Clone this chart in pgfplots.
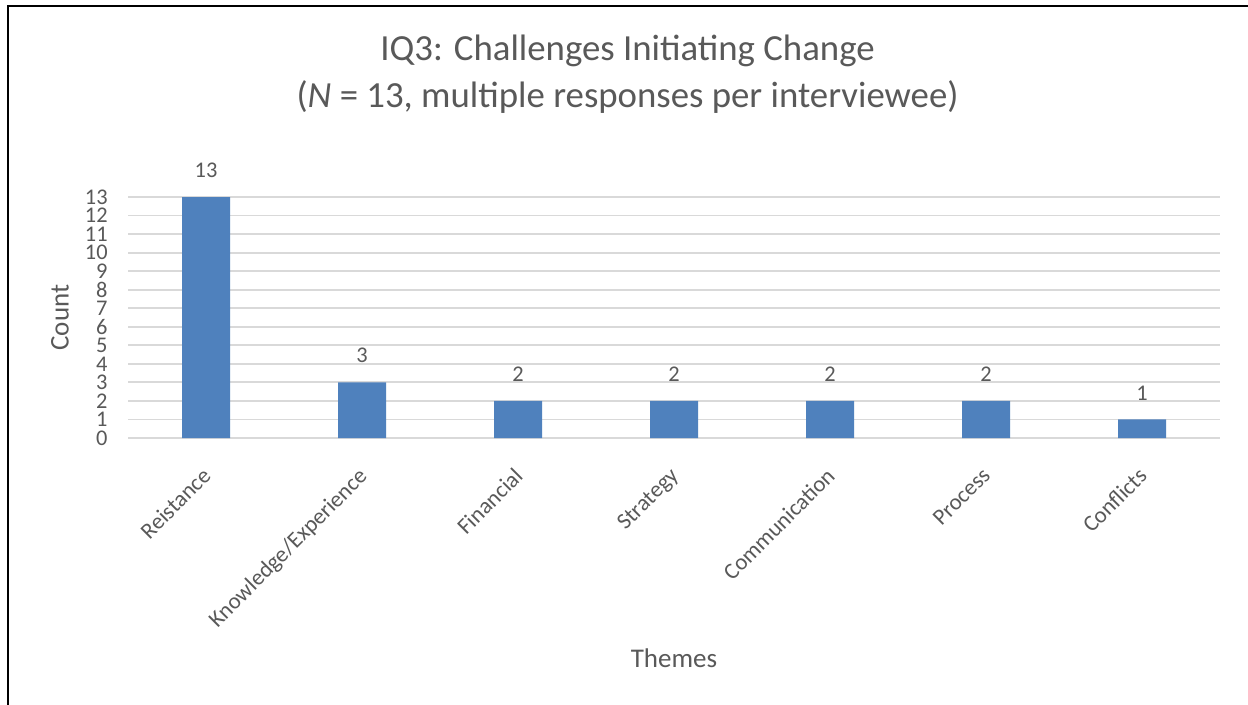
\documentclass[border=0pt]{standalone}
\usepackage{pgfplots}
\pgfplotsset{compat=1.18}
\usepackage{fontspec}
\setmainfont{Carlito}
\definecolor{barblue}{HTML}{4F81BD}
\definecolor{txtgray}{HTML}{595959}
\definecolor{gridgray}{HTML}{D9D9D9}

\begin{document}
\begin{tikzpicture}
% page area: 1 px = 0.5 pt, origin at the top-left corner
\useasboundingbox (0pt,0pt) rectangle (624pt,-352.5pt);
\fill[white] (0pt,0pt) rectangle (624pt,-352.5pt);
% outer frame (left and top edges)
\draw[black, line width=1.3pt] (4pt,-352.5pt) -- (4pt,-3pt) -- (624pt,-3pt);

% title
\node[anchor=base, text=txtgray, font=\fontsize{18.4}{22}\selectfont]
  at (313.75pt,-30.5pt) {IQ3: Challenges Initiating Change};
\node[anchor=base, text=txtgray, font=\fontsize{18.4}{22}\selectfont]
  at (313.75pt,-54pt) {(\textit{N} = 13, multiple responses per interviewee)};

\begin{axis}[
  anchor=south west, at={(64pt,-219pt)},
  scale only axis, width=546pt, height=120.5pt,
  xmin=-0.5, xmax=6.5, ymin=0, ymax=13,
  xtick=data,
  xticklabels={Reistance, Knowledge/Experience, Financial, Strategy,
               Communication, Process, Conflicts},
  ytick={0,1,...,13},
  axis line style={draw=none},
  major tick length=0pt,
  ymajorgrids, grid style={gridgray, line width=0.9pt},
  ticklabel style={text=txtgray},
  /pgf/number format/assume math mode=true,
  yticklabel style={anchor=east, inner sep=0pt, xshift=-10pt,
    font=\fontsize{11.2}{12}\selectfont},
  xticklabel style={yshift=-14pt, xshift=-2.5pt, rotate=45, anchor=north east,
    inner sep=0pt, font=\fontsize{11.4}{13}\selectfont},
  xlabel={Themes}, ylabel={Count},
  every axis x label/.style={at={(rel axis cs:0.5,0)}, anchor=base,
    yshift=-114.5pt, text=txtgray, font=\fontsize{13.5}{16}\selectfont},
  every axis y label/.style={at={(rel axis cs:0,0.5)}, anchor=center,
    xshift=-34pt, rotate=90, text=txtgray, font=\fontsize{13.5}{16}\selectfont},
  clip=false,
]
\addplot[ybar, bar width=24pt, fill=barblue, draw=none,
  nodes near coords,
  every node near coord/.append style={text=txtgray,
    font=\fontsize{11.2}{12}\selectfont, anchor=south, inner sep=0pt, yshift=9.5pt}]
  coordinates {(0,13) (1,3) (2,2) (3,2) (4,2) (5,2) (6,1)};
\end{axis}
\end{tikzpicture}
\end{document}
